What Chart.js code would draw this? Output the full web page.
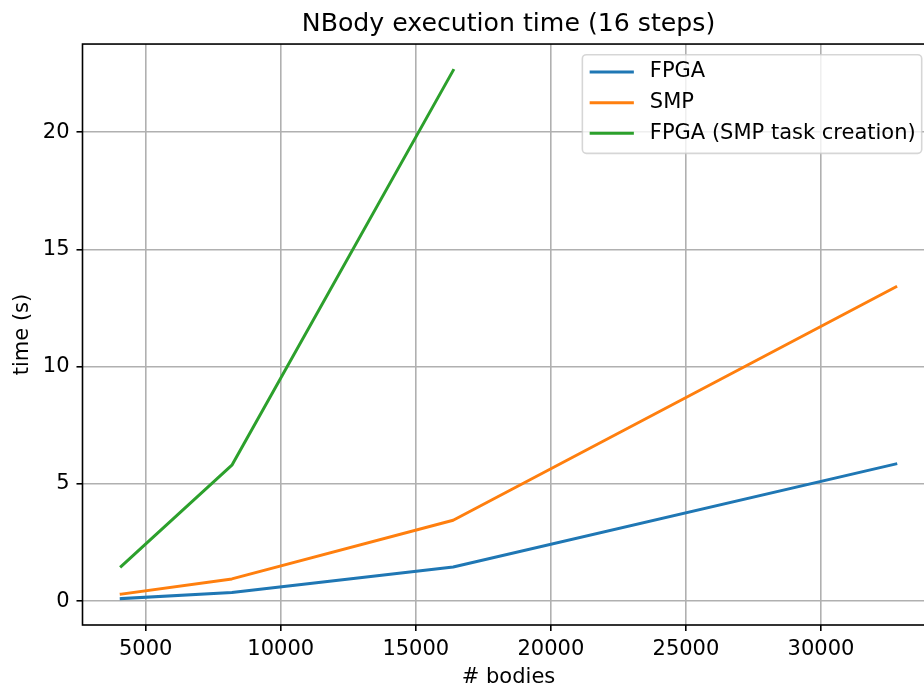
<!DOCTYPE html>
<html>
<head>
<meta charset="utf-8">
<title>NBody execution time</title>
<script src="https://cdn.jsdelivr.net/npm/chart.js@4"></script>
<style>
  html, body { margin: 0; padding: 0; background: #fff; overflow: hidden; }
  #wrap { width: 924px; height: 686px; overflow: hidden; position: relative; }
  canvas { display: block; }
</style>
</head>
<body>
<div id="wrap"><canvas id="nbody" width="940" height="700"></canvas></div>
<script>
// Problem sizes (number of bodies) and measured execution times in seconds
const bodies = [4096, 8192, 16384, 32768];
const fpgaTime = [0.11, 0.37, 1.46, 5.85];
const smpTime = [0.30, 0.95, 3.45, 13.40];
const fpgaSmpTaskTime = [1.48, 5.80, 22.63];

const seriesNames = ['FPGA', 'SMP', 'FPGA (SMP task creation)'];
const seriesColors = ['#1f77b4', '#ff7f0e', '#2ca02c'];

const xTickValues = [5000, 10000, 15000, 20000, 25000, 30000];
const yTickValues = [0, 5, 10, 15, 20];

const FONT = '"DejaVu Sans", sans-serif';
const TICK_PX = 21;
const TITLE_PX = 25.2;

// 5% margins on each side of the data range
function withMargin(values) {
  const lo = Math.min(...values), hi = Math.max(...values);
  const m = (hi - lo) * 0.05;
  return [lo - m, hi + m];
}
const [xMin, xMax] = withMargin(bodies);
const [yMin, yMax] = withMargin([...fpgaTime, ...smpTime, ...fpgaSmpTaskTime]);

function toPoints(xs, ys) {
  return ys.map((y, i) => ({ x: xs[i], y }));
}

// Full frame around the plotting area, drawn above the lines
const frame = {
  id: 'frame',
  afterDatasetsDraw(chart) {
    const { ctx, chartArea: a } = chart;
    ctx.save();
    ctx.strokeStyle = '#000';
    ctx.lineWidth = 1.6;
    ctx.strokeRect(a.left, a.top, a.right - a.left, a.bottom - a.top);
    ctx.restore();
  }
};

// Legend box in the upper right corner of the plotting area
const boxLegend = {
  id: 'boxLegend',
  afterDraw(chart) {
    const { ctx, chartArea: a } = chart;
    ctx.save();
    ctx.font = `${TICK_PX}px ${FONT}`;
    const sets = chart.data.datasets;
    const textW = Math.max(...sets.map(d => ctx.measureText(d.label).width));
    const right = a.right - 12.8;
    const top = a.top + 10.7;
    const handleX0 = 7.3, handleX1 = 51.5, textX = 67.5;
    const w = textX + textW + 6;
    const h = 98.6;
    const left = right - w;

    ctx.beginPath();
    ctx.roundRect(left, top, w, h, 4);
    ctx.fillStyle = 'rgba(255,255,255,0.8)';
    ctx.fill();
    ctx.strokeStyle = 'rgba(204,204,204,0.8)';
    ctx.lineWidth = 1.6;
    ctx.stroke();

    sets.forEach((ds, i) => {
      const y = top + 17.2 + i * 30.7;
      ctx.strokeStyle = ds.borderColor;
      ctx.lineWidth = 3;
      ctx.beginPath();
      ctx.moveTo(left + handleX0, y);
      ctx.lineTo(left + handleX1, y);
      ctx.stroke();
      ctx.fillStyle = '#000';
      ctx.textBaseline = 'middle';
      ctx.textAlign = 'left';
      ctx.fillText(ds.label, left + textX, y);
    });
    ctx.restore();
  }
};

const lineStyle = (i) => ({
  borderColor: seriesColors[i],
  backgroundColor: seriesColors[i],
  borderWidth: 3,
  pointRadius: 0,
  pointHoverRadius: 0,
  tension: 0,
  fill: false,
  borderJoinStyle: 'round',
  borderCapStyle: 'square'
});

new Chart(document.getElementById('nbody'), {
  type: 'line',
  data: {
    datasets: [
      { label: seriesNames[0], data: toPoints(bodies, fpgaTime), ...lineStyle(0) },
      { label: seriesNames[1], data: toPoints(bodies, smpTime), ...lineStyle(1) },
      { label: seriesNames[2], data: toPoints(bodies, fpgaSmpTaskTime), ...lineStyle(2) }
    ]
  },
  options: {
    responsive: false,
    devicePixelRatio: 1,
    animation: false,
    events: [],
    layout: { padding: { left: 0, right: 5.5, top: 0, bottom: 0 } },
    plugins: {
      legend: { display: false },
      tooltip: { enabled: false },
      title: {
        display: true,
        text: 'NBody execution time (16 steps)',
        fullSize: false,
        color: '#000',
        font: { family: FONT, size: TITLE_PX, weight: 'normal', lineHeight: 1.2 },
        padding: { top: 9.3, bottom: 4.5 }
      }
    },
    scales: {
      x: {
        type: 'linear',
        min: xMin,
        max: xMax,
        afterBuildTicks: (s) => { s.ticks = xTickValues.map(v => ({ value: v })); },
        afterFit: (s) => { s.height = 75; },
        ticks: {
          color: '#000',
          font: { family: FONT, size: TICK_PX },
          padding: 6,
          maxRotation: 0,
          callback: (v) => String(v)
        },
        grid: {
          color: '#b0b0b0',
          lineWidth: 1.6,
          drawTicks: true,
          tickLength: 6,
          tickColor: '#000',
          tickWidth: 1.6
        },
        border: { display: false },
        title: {
          display: true,
          text: '# bodies',
          color: '#000',
          font: { family: FONT, size: TICK_PX, lineHeight: 1.2 },
          padding: { top: 0, bottom: 9.5 }
        }
      },
      y: {
        type: 'linear',
        min: yMin,
        max: yMax,
        afterBuildTicks: (s) => { s.ticks = yTickValues.map(v => ({ value: v })); },
        afterFit: (s) => { s.width = 82.5; },
        ticks: {
          color: '#000',
          font: { family: FONT, size: TICK_PX },
          padding: 7,
          callback: (v) => String(v)
        },
        grid: {
          color: '#b0b0b0',
          lineWidth: 1.6,
          drawTicks: true,
          tickLength: 6,
          tickColor: '#000',
          tickWidth: 1.6
        },
        border: { display: false },
        title: {
          display: true,
          text: 'time (s)',
          color: '#000',
          font: { family: FONT, size: TICK_PX, lineHeight: 1.2 },
          padding: { top: 9.6, bottom: 0 }
        }
      }
    }
  },
  plugins: [frame, boxLegend]
});
</script>
</body>
</html>
